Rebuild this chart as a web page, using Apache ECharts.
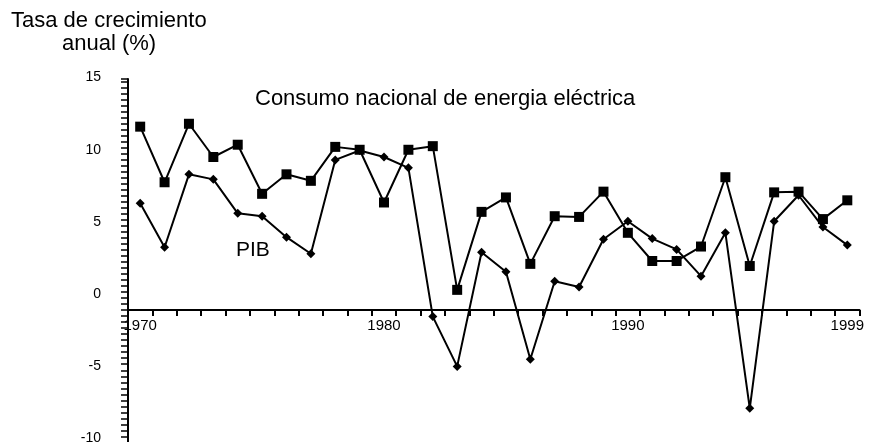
<!DOCTYPE html>
<html>
<head>
    <meta charset="UTF-8">
    <title>Tasa de crecimiento anual</title>
    <script src="https://cdn.jsdelivr.net/npm/echarts@6/dist/echarts.min.js"></script>
    <style>
        html, body { margin: 0; padding: 0; background: #fff; }
        #chart { width: 874px; height: 442px; }
    </style>
</head>
<body>
    <div id="chart"></div>
    <script>
        // años
        var years = ['1970', '1971', '1972', '1973', '1974', '1975', '1976', '1977', '1978', '1979',
                     '1980', '1981', '1982', '1983', '1984', '1985', '1986', '1987', '1988', '1989',
                     '1990', '1991', '1992', '1993', '1994', '1995', '1996', '1997', '1998', '1999'];
        var shownYears = ['1970', '1980', '1990', '1999'];

        // consumo nacional de energia electrica (%)
        var energia = [12.7, 8.85, 12.9, 10.6, 11.45, 8.05, 9.4, 8.95, 11.3, 11.1,
                       7.45, 11.1, 11.35, 1.4, 6.8, 7.8, 3.2, 6.5, 6.45, 8.2,
                       5.35, 3.4, 3.4, 4.4, 9.2, 3.05, 8.15, 8.2, 6.3, 7.6];
        // PIB (%)
        var pib = [7.4, 4.35, 9.4, 9.05, 6.7, 6.5, 5.05, 3.9, 10.4, 11.05,
                   10.6, 9.85, -0.45, -3.9, 4.0, 2.65, -3.4, 2.0, 1.6, 4.9,
                   6.15, 4.95, 4.2, 2.35, 5.35, -6.8, 6.15, 7.95, 5.75, 4.5];

        var font = 'Liberation Sans, Arial, sans-serif';
        var chart = echarts.init(document.getElementById('chart'), null, {renderer: 'canvas'});

        // rejilla: -10..16, el cero cae a 144.4 px del borde inferior
        var gridTop = 79, gridH = 375.5, yMin = -10, yMax = 16;
        var zeroOffset = gridH * (0 - yMin) / (yMax - yMin);

        chart.setOption({
            backgroundColor: '#fff',
            animation: false,
            grid: {left: 128, top: gridTop, width: 731.5, height: gridH, outerBoundsMode: 'none', containLabel: false},
            xAxis: {
                type: 'category',
                data: years,
                boundaryGap: true,
                position: 'bottom',
                offset: -zeroOffset,
                axisLine: {onZero: false, lineStyle: {color: '#000', width: 2}},
                axisTick: {show: true, interval: 0, length: 6, lineStyle: {color: '#000', width: 2}},
                axisLabel: {
                    color: '#000', fontSize: 15, fontFamily: font, margin: 8,
                    interval: function (i, v) { return shownYears.indexOf(v) >= 0; }
                },
                splitLine: {show: false}
            },
            yAxis: {
                type: 'value',
                min: yMin,
                max: yMax,
                interval: 5 / 12,
                axisLine: {show: true, onZero: false, lineStyle: {color: '#000', width: 2}},
                axisTick: {show: true, length: 7, lineStyle: {color: '#000', width: 1.5}},
                axisLabel: {
                    color: '#000', fontSize: 14, fontFamily: font, margin: 27,
                    lineHeight: 32,
                    // el texto queda por encima de la marca, como en el original
                    formatter: function (v) {
                        var k = v / 5;
                        if (Math.abs(k - Math.round(k)) < 1e-6 && v < 15.5) return Math.round(v) + '\n';
                        return '';
                    }
                },
                splitLine: {show: false}
            },
            graphic: [
                {type: 'text', left: 11, top: 10, style: {text: 'Tasa de crecimiento', font: '22px ' + font, fill: '#000'}},
                {type: 'text', left: 62, top: 33, style: {text: 'anual (%)', font: '22px ' + font, fill: '#000'}},
                {type: 'text', left: 255, top: 88, style: {text: 'Consumo nacional de energia eléctrica', font: '22px ' + font, fill: '#000'}},
                {type: 'text', left: 236, top: 240, style: {text: 'PIB', font: '21px ' + font, fill: '#000'}}
            ],
            series: [
                {
                    name: 'Consumo nacional de energia eléctrica',
                    type: 'line',
                    data: energia,
                    symbol: 'rect',
                    symbolSize: 10,
                    itemStyle: {color: '#000'},
                    lineStyle: {color: '#000', width: 2}
                },
                {
                    name: 'PIB',
                    type: 'line',
                    data: pib,
                    symbol: 'diamond',
                    symbolSize: 9,
                    itemStyle: {color: '#000'},
                    lineStyle: {color: '#000', width: 2}
                }
            ]
        });
    </script>
</body>
</html>
